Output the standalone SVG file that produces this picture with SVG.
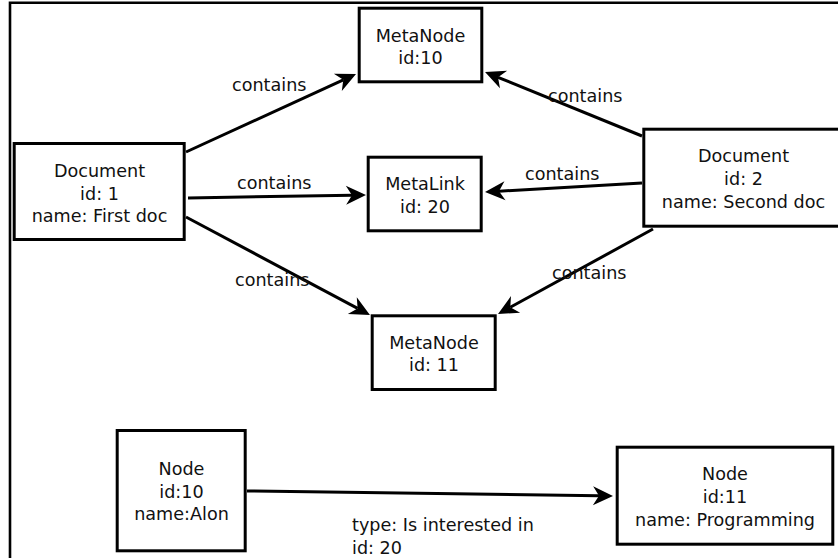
<svg xmlns="http://www.w3.org/2000/svg" width="838" height="558" viewBox="0 0 838 558">
<style>
.box{fill:#fff;stroke:#000;stroke-width:3}
.t{font-family:"DejaVu Sans",sans-serif;font-size:17.6px;fill:#111}
.c{text-anchor:middle}
.edge{stroke:#000;stroke-width:3;fill:none;marker-end:url(#ah)}
.frame{stroke:#000;stroke-width:2.6;fill:none}
</style>
<defs>
<marker id="ah" markerUnits="userSpaceOnUse" markerWidth="22" markerHeight="20" refX="6" refY="0" viewBox="0 -10 22 20" orient="auto" overflow="visible">
<path d="M0,-9.5 L20,0 L0,9.5 L6,0 Z" fill="#000"/>
</marker>
</defs>
<rect width="838" height="558" fill="#fff"/>
<path class="frame" d="M10,558 L10,2.7 L838,2.7"/>
<g id="connectors">
<line class="edge" x1="186" y1="152" x2="343.3" y2="79.8"/>
<line class="edge" x1="188" y1="198" x2="352" y2="195.2"/>
<line class="edge" x1="186" y1="217" x2="357.6" y2="308.4"/>
<line class="edge" x1="642" y1="136" x2="498" y2="77.3"/>
<line class="edge" x1="642" y1="183" x2="499" y2="191.2"/>
<line class="edge" x1="653" y1="229" x2="510.3" y2="307.3"/>
<line class="edge" x1="247" y1="491" x2="599" y2="495.8"/>
<text class="t" x="232" y="91">contains</text>
<text class="t" x="237" y="189">contains</text>
<text class="t" x="235" y="286">contains</text>
<text class="t" x="548" y="101.5">contains</text>
<text class="t" x="525" y="180">contains</text>
<text class="t" x="552" y="279">contains</text>
<text class="t" x="352" y="531">type: Is interested in</text>
<text class="t" x="352" y="554">id: 20</text>
</g>
<g id="doc1">
<rect class="box" x="14.2" y="143.5" width="170" height="96"/>
<text class="t c" x="99.5" y="176.7">Document</text>
<text class="t c" x="99.5" y="199.5">id: 1</text>
<text class="t c" x="99.5" y="221.7">name: First doc</text>
</g>
<g id="metanode10">
<rect class="box" x="359.2" y="8.2" width="122.6" height="73.6"/>
<text class="t c" x="420.5" y="41.7">MetaNode</text>
<text class="t c" x="420.5" y="63.5">id:10</text>
</g>
<g id="metalink20">
<rect class="box" x="368.2" y="157.2" width="113" height="73.6"/>
<text class="t c" x="425" y="190">MetaLink</text>
<text class="t c" x="425" y="213">id: 20</text>
</g>
<g id="metanode11">
<rect class="box" x="372.2" y="315.8" width="123" height="73.7"/>
<text class="t c" x="434" y="348.5">MetaNode</text>
<text class="t c" x="434" y="371">id: 11</text>
</g>
<g id="doc2">
<rect class="box" x="643.8" y="129.2" width="205" height="97"/>
<text class="t c" x="743.5" y="161.5">Document</text>
<text class="t c" x="743.5" y="185">id: 2</text>
<text class="t c" x="743.5" y="208">name: Second doc</text>
</g>
<g id="node10">
<rect class="box" x="117.2" y="430.5" width="128" height="120.3"/>
<text class="t c" x="181.5" y="475">Node</text>
<text class="t c" x="181.5" y="497.5">id:10</text>
<text class="t c" x="181.5" y="520">name:Alon</text>
</g>
<g id="node11">
<rect class="box" x="617.2" y="447.2" width="215.6" height="97"/>
<text class="t c" x="725" y="480">Node</text>
<text class="t c" x="725" y="503">id:11</text>
<text class="t c" x="725" y="525.5">name: Programming</text>
</g>
</svg>
